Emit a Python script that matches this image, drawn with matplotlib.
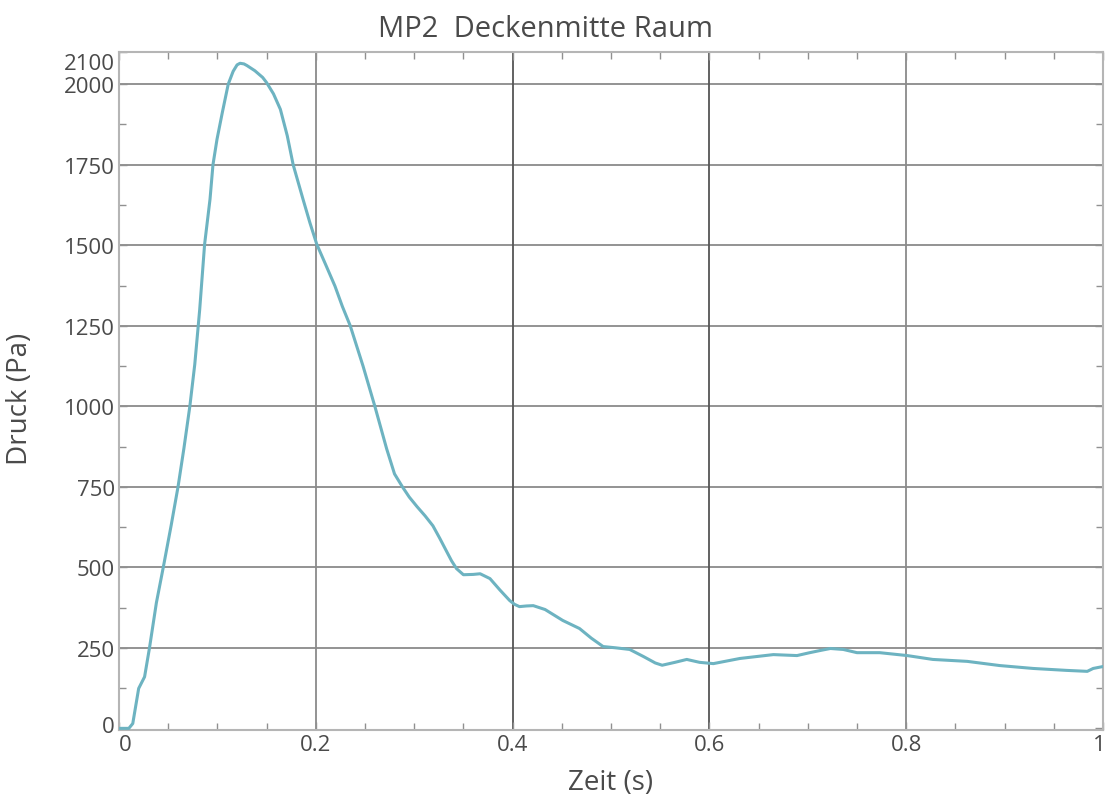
import matplotlib
matplotlib.use("Agg")
import matplotlib.pyplot as plt
import matplotlib.transforms as mtransforms
from matplotlib.ticker import MultipleLocator

# Pressure trace at the ceiling centre (MP2)
zeit = [0.000, 0.010, 0.014, 0.020, 0.026, 0.031, 0.038, 0.045, 0.053, 0.060,
        0.066, 0.072, 0.077, 0.082, 0.087, 0.0925, 0.0955, 0.0996, 0.105, 0.111,
        0.116, 0.120, 0.123, 0.127, 0.130, 0.138, 0.146, 0.150, 0.157, 0.164,
        0.171, 0.177, 0.187, 0.194, 0.201, 0.210, 0.2195, 0.227, 0.235, 0.248,
        0.260, 0.272, 0.280, 0.288, 0.295, 0.303, 0.311, 0.319, 0.326, 0.333,
        0.338, 0.343, 0.350, 0.360, 0.367, 0.377, 0.387, 0.397, 0.402, 0.407,
        0.414, 0.421, 0.433, 0.451, 0.468, 0.480, 0.492, 0.505, 0.519, 0.533,
        0.545, 0.552, 0.565, 0.577, 0.590, 0.604, 0.631, 0.665, 0.689, 0.702,
        0.713, 0.723, 0.736, 0.750, 0.773, 0.801, 0.827, 0.862, 0.895, 0.929,
        0.963, 0.984, 0.990, 1.000]
druck = [0, 0, 15, 124, 160, 250, 390, 500, 630, 750,
         870, 1000, 1130, 1300, 1503, 1643, 1750, 1829, 1912, 2000,
         2040, 2060, 2065, 2063, 2058, 2042, 2021, 2005, 1970, 1922,
         1840, 1750, 1643, 1570, 1503, 1440, 1373, 1310, 1250, 1125,
         1000, 868, 790, 750, 718, 688, 660, 629, 590, 549,
         520, 496, 477, 478, 480, 465, 430, 397, 385, 378,
         380, 381, 369, 335, 310, 280, 254, 250, 245, 223,
         203, 196, 205, 214, 205, 201, 217, 229, 226, 235,
         242, 248, 245, 235, 235, 226, 214, 208, 195, 186,
         180, 177, 186, 192]

x_ticks = [0, 0.2, 0.4, 0.6, 0.8, 1]
x_tick_labels = ["0", "0.2", "0.4", "0.6", "0.8", "1"]
y_ticks = [0, 250, 500, 750, 1000, 1250, 1500, 1750, 2000, 2100]
y_tick_labels = ["0", "250", "500", "750", "1000", "1250", "1500", "1750", "2000", "2100"]

plt.rcParams["font.family"] = ["Open Sans", "DejaVu Sans"]
text_col = "#4a4a4a"

fig = plt.figure(figsize=(11.09, 8.03), dpi=100)
ax = fig.add_axes([0.1073, 0.0897, 0.8873, 0.8443])

ax.plot(zeit, druck, color="#6db3c1", lw=2.2, solid_joinstyle="round",
        solid_capstyle="round", zorder=3)

ax.set_xlim(0, 1)
ax.set_ylim(-5, 2100)
ax.set_xticks(x_ticks)
ax.set_xticklabels(x_tick_labels)
ax.set_yticks(y_ticks)
ax.set_yticklabels(y_tick_labels)
ax.xaxis.set_minor_locator(MultipleLocator(0.05))
ax.yaxis.set_minor_locator(MultipleLocator(125))

ax.tick_params(which="both", direction="in", top=True, right=True,
               colors="#909090", labelcolor=text_col, labelsize=16)
ax.tick_params(which="major", length=6, width=1, pad=3)
ax.tick_params(which="minor", length=5, width=1)

# grid: horizontal lines and vertical lines (middle ones darker)
for yv in y_ticks[1:-1]:
    ax.axhline(yv, color="#8a8a8a", lw=1.3, zorder=1)
vcols = {0.2: "#8a8a8a", 0.4: "#555555", 0.6: "#555555", 0.8: "#8a8a8a"}
for xv in x_ticks[1:-1]:
    ax.axvline(xv, color=vcols[xv], lw=1.3, zorder=1)

for s in ax.spines.values():
    s.set_color("#b5b5b5")
    s.set_linewidth(1.5)

# keep edge labels inside the frame
def shift(label, dx, dy):
    label.set_transform(label.get_transform() +
                        mtransforms.ScaledTranslation(dx / 100, dy / 100, fig.dpi_scale_trans))

ylabs = ax.get_yticklabels()
shift(ylabs[-1], 0, -9)
shift(ylabs[0], 0, 4)
xlabs = ax.get_xticklabels()
shift(xlabs[0], 6, 0)
shift(xlabs[-1], -4, 0)

ax.set_xlabel("Zeit (s)", fontsize=20, color=text_col)
ax.xaxis.set_label_coords(0.5, -0.056)
ax.set_ylabel("Druck (Pa)", fontsize=20, color=text_col)
ax.yaxis.set_label_coords(-0.086, 0.49)
fig.text(0.4923, 0.954, "MP2  Deckenmitte Raum", fontsize=21, color=text_col,
         ha="center", va="baseline")

fig.savefig("out.png", dpi=100, facecolor="white")
